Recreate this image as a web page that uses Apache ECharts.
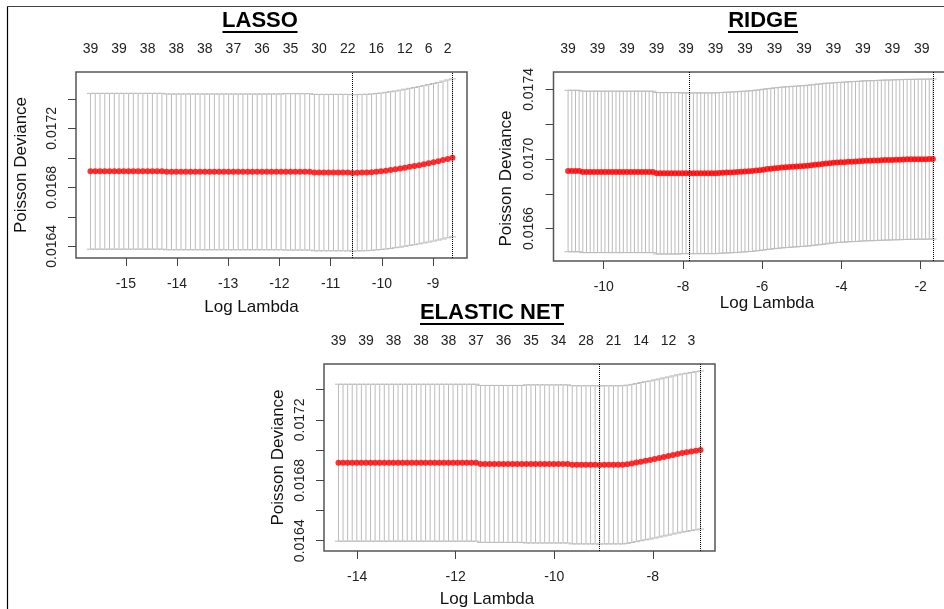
<!DOCTYPE html>
<html>
<head>
<meta charset="utf-8">
<title>cv.glmnet: LASSO, RIDGE, ELASTIC NET</title>
<script src="https://cdn.jsdelivr.net/npm/echarts@6/dist/echarts.min.js"></script>
<style>
  html, body { margin: 0; padding: 0; background: #fff; }
  #chart { width: 944px; height: 609px; }
</style>
</head>
<body>
<div id="chart"></div>
<script>
// ---- data ----
const lassoLogLambda = [
  -15.690, -15.597, -15.504, -15.411, -15.318, -15.225, -15.132, -15.039, -14.946, -14.853,
  -14.760, -14.667, -14.574, -14.481, -14.388, -14.295, -14.202, -14.108, -14.015, -13.922,
  -13.829, -13.736, -13.643, -13.550, -13.457, -13.364, -13.271, -13.178, -13.085, -12.992,
  -12.899, -12.806, -12.713, -12.620, -12.527, -12.434, -12.341, -12.248, -12.155, -12.062,
  -11.969, -11.876, -11.783, -11.690, -11.597, -11.504, -11.411, -11.318, -11.225, -11.132,
  -11.039, -10.945, -10.852, -10.759, -10.666, -10.573, -10.480, -10.387, -10.294, -10.201,
  -10.108, -10.015, -9.922, -9.829, -9.736, -9.643, -9.550, -9.457, -9.364, -9.271,
  -9.178, -9.085, -8.992, -8.899, -8.806, -8.713, -8.620
];
const lassoCvm = [
  0.016909, 0.016909, 0.016909, 0.016909, 0.016909, 0.016909, 0.016909, 0.016909, 0.016909, 0.016909,
  0.016909, 0.016909, 0.016909, 0.016909, 0.016909, 0.016909, 0.016905, 0.016905, 0.016905, 0.016905,
  0.016905, 0.016905, 0.016905, 0.016905, 0.016905, 0.016905, 0.016905, 0.016905, 0.016905, 0.016905,
  0.016905, 0.016905, 0.016905, 0.016905, 0.016905, 0.016905, 0.016905, 0.016905, 0.016905, 0.016905,
  0.016905, 0.016905, 0.016905, 0.016905, 0.016905, 0.016905, 0.016905, 0.016900, 0.016900, 0.016900,
  0.016900, 0.016900, 0.016900, 0.016900, 0.016900, 0.016898, 0.016899, 0.016900, 0.016901, 0.016903,
  0.016906, 0.016909, 0.016913, 0.016917, 0.016922, 0.016927, 0.016933, 0.016939, 0.016944, 0.016950,
  0.016956, 0.016963, 0.016970, 0.016977, 0.016985, 0.016993, 0.017000
];
const lassoCvsd = [
  0.000528, 0.000528, 0.000528, 0.000528, 0.000528, 0.000528, 0.000528, 0.000528, 0.000528, 0.000528,
  0.000528, 0.000528, 0.000528, 0.000528, 0.000528, 0.000528, 0.000528, 0.000528, 0.000528, 0.000528,
  0.000528, 0.000528, 0.000528, 0.000528, 0.000528, 0.000528, 0.000528, 0.000528, 0.000528, 0.000528,
  0.000528, 0.000528, 0.000528, 0.000528, 0.000528, 0.000528, 0.000528, 0.000528, 0.000528, 0.000528,
  0.000528, 0.000530, 0.000530, 0.000530, 0.000530, 0.000530, 0.000530, 0.000530, 0.000530, 0.000530,
  0.000530, 0.000530, 0.000530, 0.000530, 0.000530, 0.000530, 0.000530, 0.000530, 0.000530, 0.000530,
  0.000530, 0.000530, 0.000531, 0.000531, 0.000531, 0.000532, 0.000532, 0.000532, 0.000533, 0.000533,
  0.000533, 0.000534, 0.000534, 0.000534, 0.000535, 0.000535, 0.000535
];
const lassoNzeroIdx = [0, 6, 12, 18, 24, 30, 36, 42, 48, 54, 60, 66, 71, 75];
const lassoNzero = [39, 39, 38, 38, 38, 37, 36, 35, 30, 22, 16, 12, 6, 2];
const lassoLambdaLines = [-10.573, -8.620];
const lassoXTicks = [-15, -14, -13, -12, -11, -10, -9];

const ridgeLogLambda = [
  -10.900, -10.807, -10.714, -10.621, -10.528, -10.435, -10.342, -10.249, -10.156, -10.063,
  -9.970, -9.877, -9.784, -9.691, -9.598, -9.505, -9.412, -9.318, -9.225, -9.132,
  -9.039, -8.946, -8.853, -8.760, -8.667, -8.574, -8.481, -8.388, -8.295, -8.202,
  -8.109, -8.016, -7.923, -7.830, -7.737, -7.644, -7.551, -7.458, -7.365, -7.272,
  -7.179, -7.086, -6.993, -6.900, -6.807, -6.714, -6.621, -6.528, -6.435, -6.342,
  -6.249, -6.155, -6.062, -5.969, -5.876, -5.783, -5.690, -5.597, -5.504, -5.411,
  -5.318, -5.225, -5.132, -5.039, -4.946, -4.853, -4.760, -4.667, -4.574, -4.481,
  -4.388, -4.295, -4.202, -4.109, -4.016, -3.923, -3.830, -3.737, -3.644, -3.551,
  -3.458, -3.365, -3.272, -3.179, -3.085, -2.992, -2.899, -2.806, -2.713, -2.620,
  -2.527, -2.434, -2.341, -2.248, -2.155, -2.062, -1.969, -1.876, -1.783, -1.690
];
const ridgeCvm = [
  0.016931, 0.016931, 0.016931, 0.016931, 0.016926, 0.016926, 0.016926, 0.016926, 0.016926, 0.016926,
  0.016926, 0.016926, 0.016926, 0.016926, 0.016926, 0.016926, 0.016926, 0.016926, 0.016926, 0.016926,
  0.016926, 0.016926, 0.016926, 0.016926, 0.016918, 0.016918, 0.016918, 0.016918, 0.016918, 0.016918,
  0.016918, 0.016918, 0.016918, 0.016918, 0.016918, 0.016918, 0.016918, 0.016918, 0.016918, 0.016918,
  0.016918, 0.016920, 0.016921, 0.016922, 0.016923, 0.016924, 0.016925, 0.016927, 0.016928, 0.016930,
  0.016931, 0.016934, 0.016936, 0.016939, 0.016942, 0.016944, 0.016947, 0.016949, 0.016951, 0.016953,
  0.016954, 0.016956, 0.016957, 0.016959, 0.016960, 0.016962, 0.016964, 0.016967, 0.016969, 0.016971,
  0.016974, 0.016976, 0.016978, 0.016980, 0.016981, 0.016982, 0.016984, 0.016985, 0.016986, 0.016987,
  0.016989, 0.016990, 0.016990, 0.016991, 0.016992, 0.016993, 0.016994, 0.016994, 0.016995, 0.016996,
  0.016996, 0.016997, 0.016998, 0.016998, 0.016998, 0.016999, 0.016999, 0.016999, 0.017000, 0.017000
];
const ridgeCvsd = [
  0.000464, 0.000464, 0.000464, 0.000464, 0.000464, 0.000464, 0.000464, 0.000464, 0.000464, 0.000464,
  0.000464, 0.000464, 0.000464, 0.000464, 0.000464, 0.000464, 0.000464, 0.000464, 0.000464, 0.000464,
  0.000464, 0.000464, 0.000464, 0.000464, 0.000464, 0.000464, 0.000464, 0.000464, 0.000464, 0.000464,
  0.000464, 0.000462, 0.000462, 0.000462, 0.000462, 0.000462, 0.000462, 0.000462, 0.000462, 0.000462,
  0.000462, 0.000462, 0.000462, 0.000462, 0.000462, 0.000462, 0.000462, 0.000462, 0.000462, 0.000462,
  0.000462, 0.000462, 0.000462, 0.000462, 0.000462, 0.000462, 0.000462, 0.000462, 0.000462, 0.000462,
  0.000462, 0.000462, 0.000462, 0.000462, 0.000462, 0.000462, 0.000462, 0.000462, 0.000462, 0.000462,
  0.000462, 0.000460, 0.000460, 0.000460, 0.000460, 0.000460, 0.000460, 0.000460, 0.000460, 0.000460,
  0.000460, 0.000460, 0.000460, 0.000460, 0.000460, 0.000460, 0.000460, 0.000460, 0.000460, 0.000460,
  0.000460, 0.000460, 0.000460, 0.000460, 0.000460, 0.000460, 0.000460, 0.000460, 0.000460, 0.000460
];
const ridgeNzeroIdx = [0, 8, 16, 24, 32, 40, 48, 56, 64, 72, 80, 88, 96];
const ridgeNzero = [39, 39, 39, 39, 39, 39, 39, 39, 39, 39, 39, 39, 39];
const ridgeLambdaLines = [-7.830, -1.690];
const ridgeXTicks = [-10, -8, -6, -4, -2];

const enetLogLambda = [
  -14.380, -14.287, -14.194, -14.101, -14.008, -13.915, -13.822, -13.729, -13.636, -13.543,
  -13.450, -13.357, -13.264, -13.171, -13.078, -12.985, -12.892, -12.798, -12.705, -12.612,
  -12.519, -12.426, -12.333, -12.240, -12.147, -12.054, -11.961, -11.868, -11.775, -11.682,
  -11.589, -11.496, -11.403, -11.310, -11.217, -11.124, -11.031, -10.938, -10.845, -10.752,
  -10.659, -10.566, -10.473, -10.380, -10.287, -10.194, -10.101, -10.008, -9.915, -9.822,
  -9.729, -9.635, -9.542, -9.449, -9.356, -9.263, -9.170, -9.077, -8.984, -8.891,
  -8.798, -8.705, -8.612, -8.519, -8.426, -8.333, -8.240, -8.147, -8.054, -7.961,
  -7.868, -7.775, -7.682, -7.589, -7.496, -7.403, -7.310, -7.217, -7.124, -7.031
];
const enetCvm = [
  0.016916, 0.016916, 0.016916, 0.016916, 0.016916, 0.016916, 0.016916, 0.016916, 0.016916, 0.016916,
  0.016916, 0.016916, 0.016916, 0.016916, 0.016916, 0.016916, 0.016916, 0.016916, 0.016916, 0.016916,
  0.016916, 0.016916, 0.016916, 0.016916, 0.016916, 0.016916, 0.016916, 0.016916, 0.016916, 0.016916,
  0.016916, 0.016908, 0.016908, 0.016908, 0.016908, 0.016908, 0.016908, 0.016908, 0.016908, 0.016908,
  0.016908, 0.016908, 0.016908, 0.016908, 0.016908, 0.016908, 0.016908, 0.016908, 0.016908, 0.016908,
  0.016908, 0.016902, 0.016902, 0.016902, 0.016902, 0.016902, 0.016902, 0.016901, 0.016902, 0.016902,
  0.016902, 0.016902, 0.016902, 0.016906, 0.016911, 0.016917, 0.016923, 0.016929, 0.016934, 0.016941,
  0.016947, 0.016954, 0.016960, 0.016967, 0.016974, 0.016980, 0.016985, 0.016990, 0.016995, 0.017000
];
const enetCvsd = [
  0.000519, 0.000519, 0.000519, 0.000519, 0.000519, 0.000519, 0.000519, 0.000519, 0.000519, 0.000519,
  0.000519, 0.000519, 0.000519, 0.000519, 0.000519, 0.000519, 0.000519, 0.000519, 0.000519, 0.000519,
  0.000519, 0.000519, 0.000519, 0.000519, 0.000519, 0.000519, 0.000519, 0.000519, 0.000519, 0.000519,
  0.000519, 0.000519, 0.000519, 0.000519, 0.000519, 0.000519, 0.000519, 0.000519, 0.000519, 0.000519,
  0.000519, 0.000523, 0.000523, 0.000523, 0.000523, 0.000523, 0.000523, 0.000523, 0.000523, 0.000523,
  0.000523, 0.000523, 0.000523, 0.000523, 0.000523, 0.000523, 0.000523, 0.000523, 0.000523, 0.000523,
  0.000523, 0.000523, 0.000523, 0.000523, 0.000523, 0.000523, 0.000523, 0.000523, 0.000523, 0.000523,
  0.000523, 0.000523, 0.000523, 0.000523, 0.000523, 0.000523, 0.000523, 0.000523, 0.000523, 0.000523
];
const enetNzeroIdx = [0, 6, 12, 18, 24, 30, 36, 42, 48, 54, 60, 66, 72, 77];
const enetNzero = [39, 39, 38, 38, 38, 37, 36, 35, 34, 28, 21, 14, 12, 3];
const enetLambdaLines = [-9.077, -7.031];
const enetXTicks = [-14, -12, -10, -8];

const yTicksFull = [0.0164, 0.0166, 0.0168, 0.0170, 0.0172, 0.0174];
const yTicksRidge = [0.0166, 0.0168, 0.0170, 0.0172, 0.0174];
const yLabelsLow = [0.0164, 0.0168, 0.0172];
const yLabelsRidge = [0.0166, 0.0170, 0.0174];

// ---- layout ----
const FONT = "Liberation Sans";
const panels = [
  {
    title: "LASSO", x: lassoLogLambda, cvm: lassoCvm, cvsd: lassoCvsd,
    nzIdx: lassoNzeroIdx, nz: lassoNzero, lines: lassoLambdaLines,
    xTicks: lassoXTicks, yTicks: yTicksFull, yLabels: yLabelsLow,
    grid: { left: 76, top: 72, width: 391, height: 186 },
    xNameGap: 41, xNamePad: [0, 40, 0, 0], yNameGap: 46, yNamePad: [0, 0, 0, 0],
    titlePos: [260, 21], titleW: 75
  },
  {
    title: "RIDGE", x: ridgeLogLambda, cvm: ridgeCvm, cvsd: ridgeCvsd,
    nzIdx: ridgeNzeroIdx, nz: ridgeNzero, lines: ridgeLambdaLines,
    xTicks: ridgeXTicks, yTicks: yTicksRidge, yLabels: yLabelsRidge,
    grid: { left: 553.5, top: 72, width: 394, height: 189 },
    xNameGap: 33, xNamePad: [0, 0, 0, 33], yNameGap: 39, yNamePad: [0, 24, 0, 0],
    titlePos: [763, 21], titleW: 70
  },
  {
    title: "ELASTIC NET", x: enetLogLambda, cvm: enetCvm, cvsd: enetCvsd,
    nzIdx: enetNzeroIdx, nz: enetNzero, lines: enetLambdaLines,
    xTicks: enetXTicks, yTicks: yTicksFull, yLabels: yLabelsLow,
    grid: { left: 324, top: 364, width: 391, height: 187 },
    xNameGap: 40, xNamePad: [0, 65, 0, 0], yNameGap: 37, yNamePad: [0, 0, 0, 0],
    titlePos: [492, 313], titleW: 144
  }
];

const chart = echarts.init(document.getElementById("chart"), null, { renderer: "canvas" });

const grids = [], xAxes = [], yAxes = [], series = [], graphics = [];
const tickText = { color: "#222", fontSize: 14, fontFamily: FONT };

panels.forEach((p, k) => {
  const lo = p.cvm.map((m, i) => m - p.cvsd[i]);
  const hi = p.cvm.map((m, i) => m + p.cvsd[i]);
  // R-style limits: data range plus 4% each side
  const xMin = Math.min(...p.x), xMax = Math.max(...p.x);
  const yMin = Math.min(...lo), yMax = Math.max(...hi);
  const xPad = (xMax - xMin) * 0.04, yPad = (yMax - yMin) * 0.04;
  const barw = (xMax - xMin) * 0.01;

  grids.push(Object.assign({
    show: true, borderColor: "#555", borderWidth: 1.5, backgroundColor: "transparent",
    containLabel: false, outerBoundsMode: "none"
  }, p.grid));

  const topVals = p.nzIdx.map((i) => p.x[i]);
  const topMap = {};
  topVals.forEach((v, j) => { topMap[v.toFixed(3)] = String(p.nz[j]); });

  xAxes.push({
    gridIndex: k, type: "value", position: "bottom",
    min: xMin - xPad, max: xMax + xPad,
    axisLine: { show: false },
    axisTick: { show: true, length: 8, customValues: p.xTicks, lineStyle: { color: "#444", width: 1 } },
    axisLabel: { customValues: p.xTicks, margin: 19, ...tickText },
    splitLine: { show: false },
    name: "Log Lambda", nameLocation: "middle", nameGap: p.xNameGap,
    nameTextStyle: { color: "#111", fontSize: 17, fontFamily: FONT, padding: p.xNamePad }
  });
  xAxes.push({
    gridIndex: k, type: "value", position: "top",
    min: xMin - xPad, max: xMax + xPad,
    axisLine: { show: false },
    axisTick: { show: false },
    axisLabel: {
      customValues: topVals, margin: 16, ...tickText,
      formatter: (v) => topMap[v.toFixed(3)] || ""
    },
    splitLine: { show: false }
  });
  yAxes.push({
    gridIndex: k, type: "value",
    min: yMin - yPad, max: yMax + yPad,
    axisLine: { show: false },
    axisTick: { show: true, length: 8, customValues: p.yTicks, lineStyle: { color: "#444", width: 1 } },
    axisLabel: { customValues: p.yLabels, rotate: 90, margin: 17, ...tickText, formatter: (v) => v.toFixed(4) },
    splitLine: { show: false },
    name: "Poisson Deviance", nameLocation: "middle", nameGap: p.yNameGap,
    nameTextStyle: { color: "#111", fontSize: 17, fontFamily: FONT, padding: p.yNamePad }
  });

  // error bars (darkgrey segments with caps, as in plot.cv.glmnet)
  series.push({
    type: "custom", xAxisIndex: 2 * k, yAxisIndex: k, silent: true, z: 1,
    data: p.x.map((x, i) => [x, lo[i], hi[i]]),
    encode: { x: 0, y: [1, 2] },
    renderItem: (params, api) => {
      const x = api.value(0);
      const top = api.coord([x, api.value(2)]);
      const bot = api.coord([x, api.value(1)]);
      const l = api.coord([x - barw, api.value(2)])[0];
      const r = api.coord([x + barw, api.value(2)])[0];
      const st = { stroke: "#bcbcbc", lineWidth: 1 };
      return {
        type: "group",
        children: [
          { type: "line", shape: { x1: top[0], y1: top[1], x2: bot[0], y2: bot[1] }, style: st },
          { type: "line", shape: { x1: l, y1: top[1], x2: r, y2: top[1] }, style: st },
          { type: "line", shape: { x1: l, y1: bot[1], x2: r, y2: bot[1] }, style: st }
        ]
      };
    }
  });

  series.push({
    type: "scatter", xAxisIndex: 2 * k, yAxisIndex: k, silent: true, z: 3,
    symbol: "circle", symbolSize: 6,
    itemStyle: { color: "#ff0000" },
    data: p.x.map((x, i) => [x, p.cvm[i]]),
    markLine: {
      silent: true, symbol: "none", label: { show: false },
      lineStyle: { type: "dotted", color: "#000", width: 1 },
      data: p.lines.map((v) => ({ xAxis: v }))
    }
  });

  // bold underlined panel title
  graphics.push({
    type: "text", x: p.titlePos[0], y: p.titlePos[1], silent: true,
    style: { text: p.title, fill: "#000", font: "bold 22px " + FONT, textAlign: "center", textVerticalAlign: "middle" }
  });
  graphics.push({
    type: "rect", silent: true,
    shape: { x: p.titlePos[0] - p.titleW / 2, y: p.titlePos[1] + 10, width: p.titleW, height: 2 },
    style: { fill: "#000" }
  });
});

// outer frame of the figure
graphics.push({ type: "line", silent: true, shape: { x1: 7.5, y1: 6.5, x2: 7.5, y2: 609 }, style: { stroke: "#000", lineWidth: 1.2 } });
graphics.push({ type: "line", silent: true, shape: { x1: 7, y1: 6.5, x2: 944, y2: 6.5 }, style: { stroke: "#444", lineWidth: 1.2 } });

chart.setOption({
  animation: false,
  backgroundColor: "#fff",
  textStyle: { fontFamily: FONT },
  grid: grids,
  xAxis: xAxes,
  yAxis: yAxes,
  series: series,
  graphic: graphics
});
</script>
</body>
</html>
